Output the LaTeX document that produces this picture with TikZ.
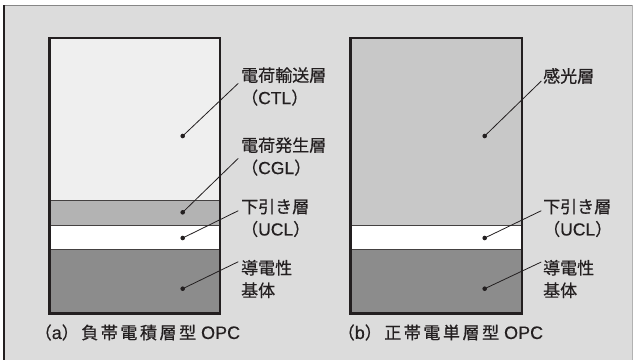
\documentclass[tikz,border=0pt]{standalone}
\usepackage{fontspec}
\setmainfont{Noto Sans CJK JP}[FakeBold=0.35]
\newfontfamily\capfont{Noto Sans CJK JP}[LetterSpace=15,FakeBold=0.6]
\newfontfamily\lblfont{Noto Sans CJK JP}[FakeBold=0.45]
\newfontfamily\latfont{Liberation Sans}[FakeBold=0.3]
\definecolor{bgc}{HTML}{DCDCDC}
\definecolor{ink}{HTML}{231F20}
\definecolor{ctlc}{HTML}{EFEFEF}
\definecolor{cglc}{HTML}{B3B3B3}
\definecolor{subc}{HTML}{8C8C8C}
\definecolor{pcc}{HTML}{C8C8C8}
\newcommand{\lat}[1]{{\latfont\fontsize{17.5}{22.5}\selectfont #1}}
\newcommand{\caplat}[1]{{\latfont\fontsize{18}{20}\selectfont #1}}
\begin{document}
\begin{tikzpicture}[x=1pt,y=-1pt,
  box/.style={draw=ink,line width=2.6pt},
  sep/.style={draw=ink!85,line width=1.1pt},
  leader/.style={draw=ink,line width=0.8pt},
  dotmark/.style={circle,fill=ink,inner sep=0pt,minimum size=4.6pt},
  lbl/.style={anchor=west,inner sep=0pt,text=ink,align=left,font=\lblfont\fontsize{17}{22.5}\selectfont},
  captxt/.style={inner sep=0pt,text=ink,font=\capfont\fontsize{17}{20}\selectfont}]
\useasboundingbox (0,0) rectangle (633,360);
% frame
\fill[bgc] (4,5) rectangle (633,360);
\draw[line width=1.4pt,draw=gray!95] (4,5.3) -- (633,5.3);
\draw[line width=1.5pt,draw=ink] (4.2,5) -- (4.2,360);
\draw[line width=0.8pt,draw=gray!60] (632,5) -- (632,360);
% (a) layers
\fill[ctlc] (49.7,38) rectangle (219.8,200.8);
\fill[cglc] (49.7,200.8) rectangle (219.8,225.7);
\fill[white] (49.7,225.7) rectangle (219.8,249.5);
\fill[subc] (49.7,249.5) rectangle (219.8,313.3);
\draw[sep] (49.7,200.8) -- (219.8,200.8);
\draw[sep] (49.7,225.7) -- (219.8,225.7);
\draw[sep] (49.7,249.5) -- (219.8,249.5);
\draw[box] (49.7,38) rectangle (219.8,313.3);
% (b) layers
\fill[pcc] (350.7,38) rectangle (521.8,225.3);
\fill[white] (350.7,225.3) rectangle (521.8,249.5);
\fill[subc] (350.7,249.5) rectangle (521.8,313.3);
\draw[sep] (350.7,225.3) -- (521.8,225.3);
\draw[sep] (350.7,249.5) -- (521.8,249.5);
\draw[box] (350.7,38) rectangle (521.8,313.3);
% (a) dots and leaders
\node[dotmark] (a1) at (182.7,136) {};
\node[dotmark] (a2) at (182.7,212.3) {};
\node[dotmark] (a3) at (182.7,238) {};
\node[dotmark] (a4) at (182.7,288.7) {};
\coordinate (ea1) at (238.3,83.3);
\coordinate (ea2) at (238.3,158.3);
\coordinate (ea3) at (238.3,210.7);
\coordinate (ea4) at (238.3,261.7);
\draw[leader] (a1.center) -- (ea1);
\draw[leader] (a2.center) -- (ea2);
\draw[leader] (a3.center) -- (ea3);
\draw[leader] (a4.center) -- (ea4);
\node[lbl] (la1) at (241,86.5) {電荷輸送層\\（\lat{CTL}）};
\node[lbl] (la2) at (241,156.5) {電荷発生層\\（\lat{CGL}）};
\node[lbl] (la3) at (241,218) {下引き層\\（\lat{UCL}）};
\node[lbl] (la4) at (241,279) {導電性\\基体};
% (b) dots and leaders
\node[dotmark] (b1) at (484.7,136) {};
\node[dotmark] (b3) at (484.7,238) {};
\node[dotmark] (b4) at (484.7,288.7) {};
\coordinate (eb1) at (541.3,81);
\coordinate (eb3) at (541.3,210.7);
\coordinate (eb4) at (541.3,262);
\draw[leader] (b1.center) -- (eb1);
\draw[leader] (b3.center) -- (eb3);
\draw[leader] (b4.center) -- (eb4);
\node[lbl] (lb1) at (543,76) {感光層};
\node[lbl] (lb3) at (543,218) {下引き層\\（\lat{UCL}）};
\node[lbl] (lb4) at (543,279) {導電性\\基体};
% captions
\node[captxt,anchor=east] (capa) at (240.3,332.5) {（\caplat{a}）負帯電積層型\caplat{ OPC}};
\node[captxt,anchor=east] (capb) at (543.3,332.5) {（\caplat{b}）正帯電単層型\caplat{ OPC}};
\end{tikzpicture}
\end{document}
